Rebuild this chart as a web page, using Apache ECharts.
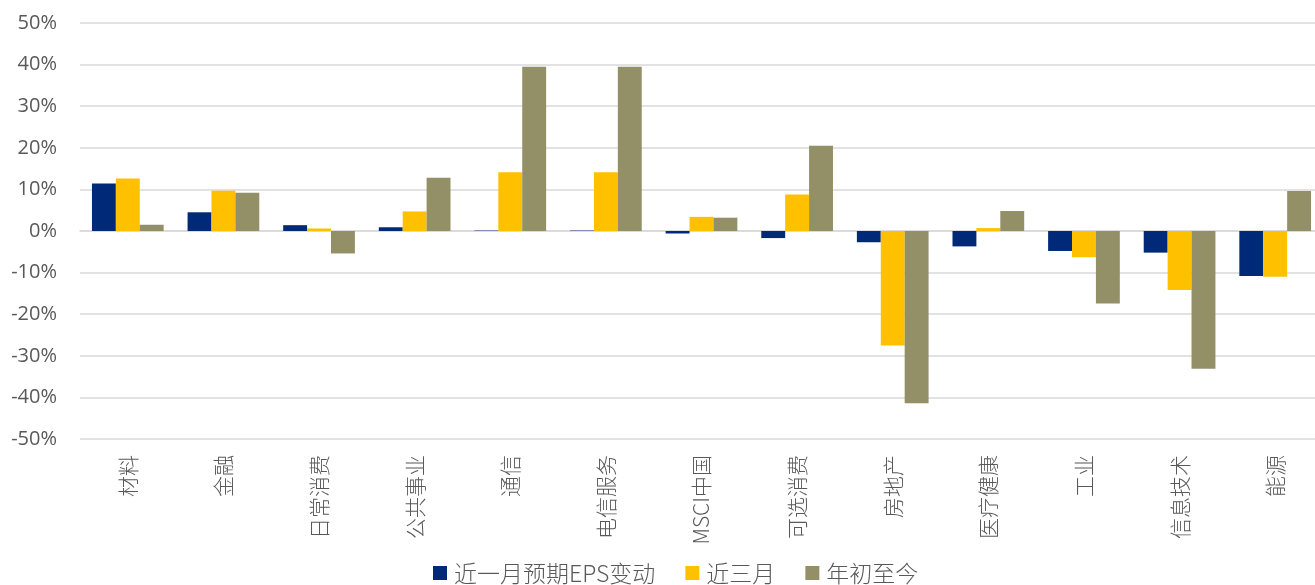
<!DOCTYPE html>
<html><head><meta charset="utf-8">
<script src="https://cdn.jsdelivr.net/npm/echarts@6/dist/echarts.min.js"></script>
<style>html,body{margin:0;padding:0;background:#fff}#c{width:1315px;height:585px}</style>
</head><body><div id="c"></div>
<script>
const categories = ['材料','金融','日常消费','公共事业','通信','电信服务','MSCI中国','可选消费','房地产','医疗健康','工业','信息技术','能源'];
const seriesNames = ['近一月预期EPS变动','近三月','年初至今'];
const oneMonth = [11.4, 4.5, 1.4, 0.9, 0.1, 0.1, -0.6, -1.7, -2.7, -3.7, -4.8, -5.2, -10.8];
const threeMonth = [12.6, 9.7, 0.6, 4.7, 14.1, 14.1, 3.4, 8.8, -27.5, 0.7, -6.3, -14.2, -11.0];
const ytd = [1.5, 9.2, -5.4, 12.8, 39.5, 39.5, 3.2, 20.5, -41.4, 4.8, -17.4, -33.1, 9.6];
const colors = ['#002A77', '#FFC000', '#939068'];

const chart = echarts.init(document.getElementById('c'), null, {renderer: 'canvas'});
const txt = '#595959';
const mk = (name, data, i) => ({
  name, type: 'bar', data, barGap: '0%', barCategoryGap: '25%',
  itemStyle: {color: colors[i]}
});
chart.setOption({
  animation: false,
  color: colors,
  grid: {left: 80, top: 23, width: 1243, height: 416, containLabel: false, outerBoundsMode: 'none'},
  legend: {
    data: seriesNames, top: 560, left: 433, padding: 0,
    itemWidth: 14, itemHeight: 14, itemGap: 30, icon: 'rect',
    textStyle: {color: txt, fontSize: 23, fontWeight: 300, lineHeight: 26, padding: [0, 0, 0, 2],
      fontFamily: '"Noto Sans CJK SC", "Open Sans", sans-serif'}
  },
  xAxis: {
    type: 'category', data: categories,
    axisLine: {show: true, onZero: true, lineStyle: {color: '#D9D9D9', width: 1.5}},
    axisTick: {show: false},
    axisLabel: {rotate: 90, interval: 0, margin: 16, color: txt, fontSize: 21, fontWeight: 300,
      fontFamily: '"Noto Sans CJK SC", sans-serif'}
  },
  yAxis: {
    type: 'value', min: -50, max: 50, interval: 10,
    axisLine: {show: false}, axisTick: {show: false},
    axisLabel: {formatter: '{value}%', color: txt, fontSize: 20, margin: 23, fontFamily: '"Open Sans", sans-serif'},
    splitLine: {lineStyle: {color: '#D9D9D9', width: 1.5}}
  },
  series: [mk(seriesNames[0], oneMonth, 0), mk(seriesNames[1], threeMonth, 1), mk(seriesNames[2], ytd, 2)]
});
</script></body></html>
